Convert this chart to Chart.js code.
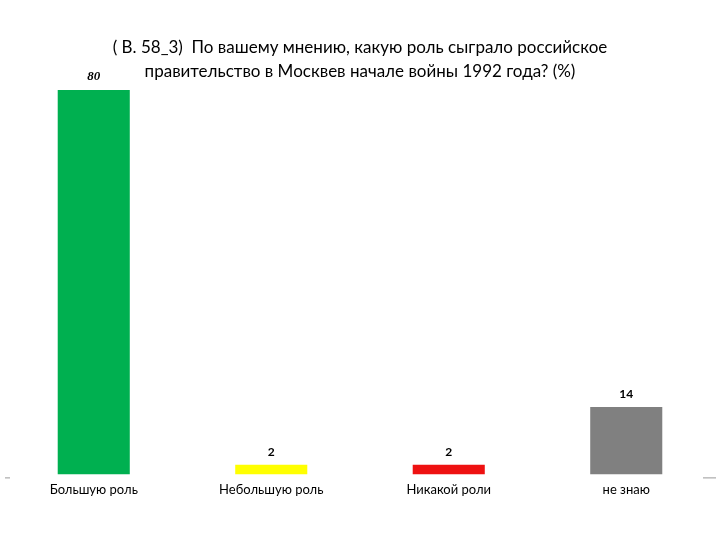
<!DOCTYPE html>
<html>
<head>
<meta charset="utf-8">
<script src="https://cdn.jsdelivr.net/npm/chart.js@4.4.1/dist/chart.umd.min.js"></script>
<style>
  html, body { margin: 0; padding: 0; background: #fff; }
  #wrap { width: 720px; height: 540px; }
</style>
</head>
<body>
<div id="wrap"><canvas id="c"></canvas></div>
<script>
const categories = ["Большую роль", "Небольшую роль", "Никакой роли", "не знаю"];
const values = [80, 2, 2, 14];
const barColors = ["#00B050", "#FFFF00", "#EE1111", "#808080"];
const titleLines = [
    "( В. 58_3)  По вашему мнению, какую роль сыграло российское",
    "правительство в Москвев начале войны 1992 года? (%)"
];

// value labels above bars, first one in italic serif like the original
const valueLabels = {
    id: "valueLabels",
    afterDatasetsDraw(chart) {
        const ctx = chart.ctx;
        const meta = chart.getDatasetMeta(0);
        ctx.save();
        ctx.textAlign = "center";
        ctx.textBaseline = "middle";
        ctx.fillStyle = "#000";
        meta.data.forEach((bar, i) => {
            if (i === 0) {
                ctx.font = "italic bold 13px 'Liberation Serif'";
            } else {
                ctx.font = "bold 12px Lato";
            }
            ctx.fillText(values[i], bar.x, bar.y - 13);
        });
        // little axis stubs at both ends
        const y = chart.chartArea.bottom + 3;
        ctx.strokeStyle = "#999";
        ctx.lineWidth = 1;
        ctx.beginPath();
        ctx.moveTo(5, y + 0.5);
        ctx.lineTo(10, y + 0.5);
        ctx.moveTo(703, y + 0.5);
        ctx.lineTo(716, y + 0.5);
        ctx.stroke();
        ctx.restore();
    }
};

new Chart(document.getElementById("c"), {
    type: "bar",
    data: {
        labels: categories,
        datasets: [{
            data: values,
            backgroundColor: barColors,
            borderWidth: 0,
            categoryPercentage: 1,
            barPercentage: 0.406
        }]
    },
    options: {
        responsive: true,
        maintainAspectRatio: false,
        animation: false,
        layout: { padding: { left: 5, right: 5, bottom: 34 } },
        scales: {
            x: {
                grid: { display: false, drawTicks: false },
                border: { display: false },
                ticks: {
                    color: "#000",
                    font: { family: "Lato", size: 13 },
                    padding: 8,
                    maxRotation: 0
                }
            },
            y: {
                display: false,
                min: 0,
                max: 80
            }
        },
        plugins: {
            legend: { display: false },
            tooltip: { enabled: false },
            title: {
                display: true,
                text: titleLines,
                color: "#000",
                font: { family: "Lato", size: 17, weight: "normal", lineHeight: 1.41 },
                padding: { top: 36, bottom: 6 }
            }
        }
    },
    plugins: [valueLabels]
});
</script>
</body>
</html>
